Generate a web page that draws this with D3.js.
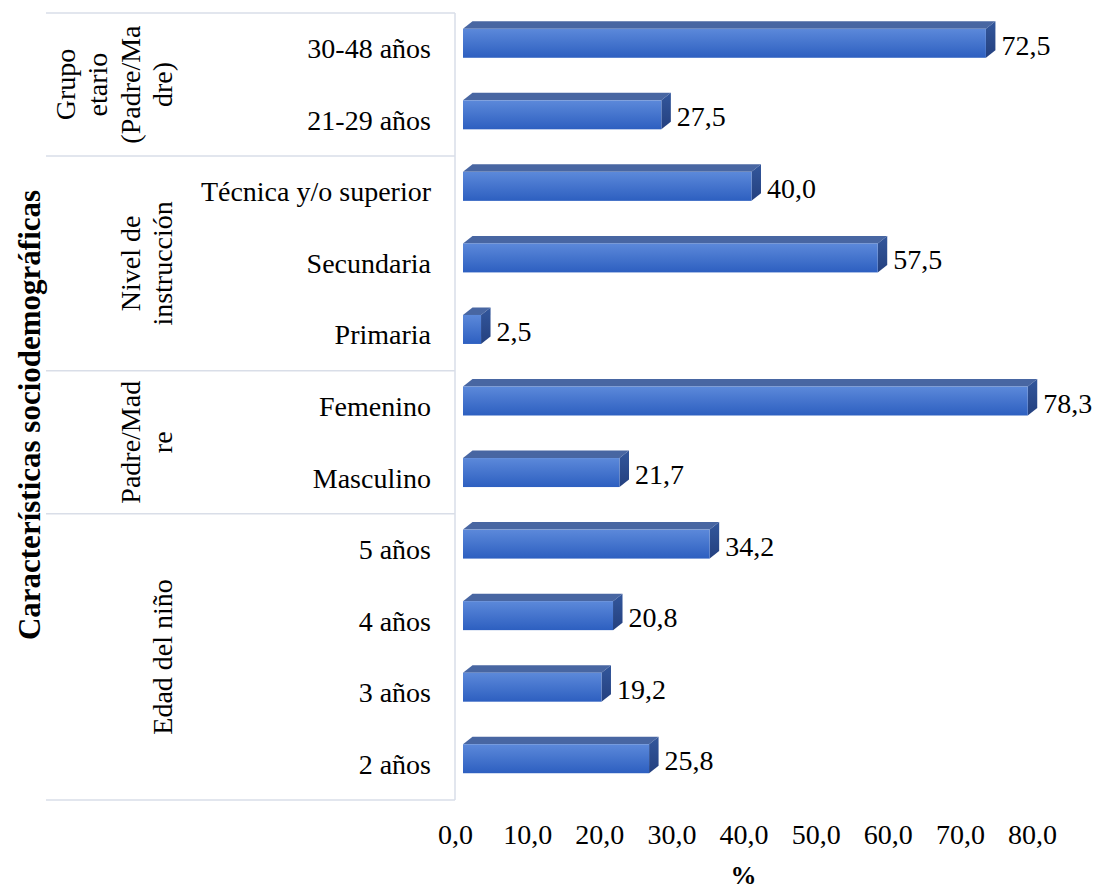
<!DOCTYPE html>
<html>
<head>
<meta charset="utf-8">
<script src="https://cdn.jsdelivr.net/npm/d3@7"></script>
<style>
  html, body { margin: 0; padding: 0; background: #ffffff; }
</style>
</head>
<body>
<svg id="chart" width="1097" height="890"></svg>
<script>
// ---- Data ----
const categories = ["30-48 años", "21-29 años", "Técnica y/o superior", "Secundaria", "Primaria",
  "Femenino", "Masculino", "5 años", "4 años", "3 años", "2 años"];
const values = [72.5, 27.5, 40.0, 57.5, 2.5, 78.3, 21.7, 34.2, 20.8, 19.2, 25.8];
const groupLabels = [["Grupo", "etario", "(Padre/Ma", "dre)"], ["Nivel de", "instrucción"], ["Padre/Mad", "re"], ["Edad del niño"]];
const groupFirst = ["30-48 años", "Técnica y/o superior", "Femenino", "5 años"];
const groupLast = ["21-29 años", "Primaria", "Masculino", "2 años"];
const xTicks = [0, 10, 20, 30, 40, 50, 60, 70, 80];
const yTitle = "Características sociodemográficas";
const xTitle = "%";

// ---- Setup ----
const FONT = "'Liberation Serif', Tinos, 'Times New Roman', 'Nimbus Roman', 'DejaVu Serif', serif";
const svg = d3.select("#chart").attr("font-family", FONT);
const locale = d3.formatLocale({decimal: ",", thousands: ".", grouping: [3], currency: ["", ""]});
const fmt = locale.format(".1f");

const x = d3.scaleLinear().domain([0, 80]).range([463, 1040]);
const y = d3.scaleBand().domain(categories).range([13, 800]).padding(0);
const bw = y.bandwidth();

const gridColor = "#D9DEE8";
const fs = 28;

// defs
const defs = svg.append("defs");
const gFront = defs.append("linearGradient").attr("id", "front").attr("x1", 0).attr("y1", 0).attr("x2", 0).attr("y2", 1);
gFront.append("stop").attr("offset", "0%").attr("stop-color", "#5C89DA");
gFront.append("stop").attr("offset", "100%").attr("stop-color", "#2D5FC0");
const gSide = defs.append("linearGradient").attr("id", "side").attr("x1", 0).attr("y1", 0).attr("x2", 0).attr("y2", 1);
gSide.append("stop").attr("offset", "0%").attr("stop-color", "#33579C");
gSide.append("stop").attr("offset", "100%").attr("stop-color", "#24407F");

// ---- Frame lines ----
const frame = svg.append("g").attr("stroke", gridColor).attr("stroke-width", 1.5).attr("fill", "none");
frame.append("line").attr("x1", 455).attr("x2", 455).attr("y1", y.range()[0]).attr("y2", y.range()[1]);
const sepYs = [y.range()[0]].concat(groupLast.map(c => y(c) + bw));
frame.selectAll("line.sep").data(sepYs).enter().append("line").attr("class", "sep")
  .attr("x1", 46).attr("x2", 455).attr("y1", d => d).attr("y2", d => d);

// ---- Bars (3D look) ----
const dx = 9.5, dy = 7.5;
const frontTop = c => y(c) + bw / 2 - 20;
const frontH = 29;
const bars = svg.append("g");
const data = categories.map((c, i) => ({c, v: values[i]}));
const bg = bars.selectAll("g.bar").data(data).enter().append("g").attr("class", "bar");
bg.append("polygon")
  .attr("points", d => {
    const x0 = x(0), x1 = x(d.v), t = frontTop(d.c);
    return [[x0, t], [x0 + dx, t - dy], [x1 + dx, t - dy], [x1, t]].map(p => p.join(",")).join(" ");
  })
  .attr("fill", "#4866A2");
bg.append("polygon")
  .attr("points", d => {
    const x1 = x(d.v), t = frontTop(d.c);
    return [[x1, t], [x1 + dx, t - dy], [x1 + dx, t + frontH - dy], [x1, t + frontH]].map(p => p.join(",")).join(" ");
  })
  .attr("fill", "url(#side)");
bg.append("rect")
  .attr("x", x(0))
  .attr("y", d => frontTop(d.c))
  .attr("width", d => x(d.v) - x(0))
  .attr("height", frontH)
  .attr("fill", "url(#front)");
bg.append("text")
  .attr("x", d => x(d.v) + dx + 6)
  .attr("y", d => y(d.c) + bw / 2 + 6)
  .attr("font-size", fs)
  .attr("font-family", FONT)
  .attr("fill", "#000")
  .text(d => fmt(d.v));

// ---- Category labels ----
svg.append("g").selectAll("text").data(categories).enter().append("text")
  .attr("x", 431)
  .attr("y", c => y(c) + bw / 2 + 9.5)
  .attr("text-anchor", "end")
  .attr("font-size", fs)
  .attr("font-family", FONT)
  .attr("fill", "#000")
  .text(c => c);

// ---- Group labels (rotated, multi-line) ----
const lineGap = 32.5;
groupLabels.forEach((lines, gi) => {
  const yc = (y(groupFirst[gi]) + y(groupLast[gi]) + bw) / 2;
  const n = lines.length;
  lines.forEach((ln, li) => {
    const bx = 172 - (n - 1 - li) * lineGap;
    svg.append("text")
      .attr("transform", `translate(${bx},${yc}) rotate(-90)`)
      .attr("text-anchor", "middle")
      .attr("font-size", fs)
      .attr("font-family", FONT)
      .attr("fill", "#000")
      .text(ln);
  });
});

// ---- Axis title (y) ----
svg.append("text")
  .attr("transform", `translate(40,415) rotate(-90)`)
  .attr("text-anchor", "middle")
  .attr("font-size", 31)
  .attr("font-weight", "bold")
  .attr("font-family", FONT)
  .attr("fill", "#000")
  .text(yTitle);

// ---- X axis ----
const xAxis = d3.axisBottom(x).tickValues(xTicks).tickFormat(fmt).tickSize(0).tickPadding(0);
const ax = svg.append("g").attr("transform", "translate(-8,844)").call(xAxis);
ax.attr("font-family", FONT);
ax.select(".domain").remove();
ax.selectAll("text")
  .attr("dy", 0)
  .attr("y", 0)
  .attr("font-size", fs)
  .attr("font-family", FONT)
  .attr("fill", "#000");

svg.append("text")
  .attr("x", (x(0) + x(80)) / 2 - 8)
  .attr("y", 884)
  .attr("text-anchor", "middle")
  .attr("font-size", 26)
  .attr("font-weight", "bold")
  .attr("font-family", FONT)
  .attr("fill", "#000")
  .text(xTitle);
</script>
</body>
</html>
